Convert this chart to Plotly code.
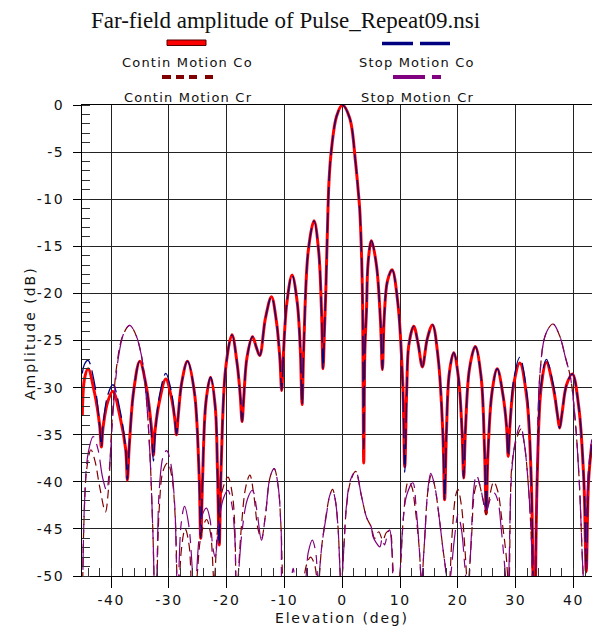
import plotly.graph_objects as go

# ---------------- data ----------------
CO_ANGLE = [
    -45.0, -44.6, -44.0, -42.9, -42.0, -41.7, -41.4, -40.6, -39.7, -38.5, -37.5, -37.2, -36.9, -36.1,
    -35.05, -33.9, -33.0, -32.7, -32.4, -31.6, -30.55, -29.6, -29.0, -28.7, -28.4, -27.8, -26.8,
    -25.6, -24.8, -24.5, -24.2, -23.6, -22.8, -22.0, -21.6, -21.3, -21.0, -20.2, -19.1, -18.2,
    -17.65, -17.35, -17.05, -16.5, -15.55, -14.9, -14.3, -13.3, -12.27, -11.4, -10.8, -10.5, -10.2,
    -9.6, -8.7, -7.8, -7.27, -6.97, -6.67, -5.9, -4.9, -4.1, -3.6, -3.34, -3.1, -2.85, -2.55, -2.3,
    -1.9, -1.0, 0.0, 1.28, 2.27, 2.7, 3.0, 3.3, 3.5, 3.7, 3.9, 4.17, 4.45, 5.03, 5.9, 6.6, 6.93,
    7.25, 7.8, 8.6, 9.6, 10.45, 10.8, 11.15, 11.5, 12.35, 13.1, 13.85, 14.7, 15.6, 16.6, 17.4, 17.7,
    18.0, 18.5, 19.27, 20.1, 20.7, 21.0, 21.3, 22.0, 23.0, 24.0, 24.6, 24.9, 25.2, 25.9, 26.8, 27.8,
    28.4, 28.7, 29.0, 29.7, 30.7, 31.9, 32.7, 33.2, 33.7, 34.4, 35.3, 36.5, 37.2, 37.6, 38.0, 38.8,
    39.8, 40.9, 41.8, 42.2, 42.6, 43.15,
]
CONTIN_CO = [
    -33.0, -29.0, -28.0, -30.5, -34.0, -36.3, -34.2, -31.5, -30.4, -33.0, -36.5, -39.8, -36.5, -30.3,
    -27.2, -30.0, -34.5, -37.2, -34.5, -31.3, -29.1, -31.0, -33.3, -35.0, -33.0, -29.5, -27.2,
    -30.5, -39.0, -46.0, -40.0, -31.5, -28.9, -32.0, -39.0, -46.7, -39.0, -28.0, -24.4, -27.5,
    -31.0, -33.6, -31.0, -26.8, -24.6, -25.7, -26.6, -22.6, -20.35, -23.0, -27.0, -30.3, -26.5,
    -21.0, -18.05, -21.0, -26.0, -31.8, -25.5, -15.5, -12.3, -15.5, -22.0, -28.0, -24.0, -19.5, -12.5, -8.0,
    -4.8, -1.2, 0.0, -1.4, -6.0, -8.8, -11.0, -15.5, -21.0, -38.0, -26.0, -22.0, -16.8, -14.4, -17.0, -23.0, -28.1,
    -22.5, -18.7, -17.5, -21.0, -29.5, -38.4, -30.0, -25.5, -23.5, -25.3, -27.8, -24.8, -23.35, -27.0, -35.0, -41.9,
    -35.0, -28.5, -26.3, -29.0, -34.5, -39.6, -34.5, -28.0, -25.65, -28.8, -36.5, -43.4, -37.0, -30.5, -28.0, -30.8,
    -34.0, -37.3, -34.0, -29.5, -27.4, -31.0, -40.0, -58.0, -40.0, -30.0, -27.3, -30.0, -32.8, -34.3, -32.8, -29.7,
    -28.55, -32.0, -40.0, -49.5, -40.0, -36.0,
]
STOP_CO = [
    -28.5, -27.5, -27.1, -29.5, -34.0, -36.3, -34.0, -30.8, -29.7, -32.3, -36.5, -39.8, -36.5, -30.3,
    -27.2, -30.0, -35.0, -37.8, -35.0, -30.7, -28.5, -30.4, -33.3, -35.0, -33.0, -29.5, -27.2,
    -30.5, -39.0, -46.0, -40.0, -31.5, -28.9, -32.0, -39.0, -46.7, -39.0, -28.0, -24.4, -27.5,
    -31.0, -33.6, -31.0, -26.8, -24.6, -25.7, -26.6, -22.6, -20.35, -23.0, -27.0, -30.3, -26.5,
    -21.0, -18.05, -21.0, -26.0, -31.8, -25.5, -15.5, -12.3, -15.5, -22.0, -28.0, -24.0, -19.5, -12.5, -8.0,
    -4.8, -1.2, 0.0, -1.4, -6.0, -8.8, -11.0, -15.5, -21.0, -36.5, -26.0, -22.0, -16.8, -14.4, -17.0, -23.0, -28.1,
    -22.5, -18.7, -17.5, -21.0, -30.0, -39.0, -30.5, -25.5, -23.5, -25.3, -27.8, -24.8, -23.35, -27.0, -35.0, -41.9,
    -35.0, -28.5, -26.3, -29.0, -34.5, -39.6, -34.5, -28.0, -25.65, -28.8, -36.5, -43.4, -37.0, -30.5, -28.0, -30.8,
    -34.0, -37.3, -34.0, -29.0, -26.8, -30.5, -40.0, -58.0, -40.0, -29.7, -27.0, -29.7, -32.8, -34.3, -32.8, -29.7,
    -28.55, -32.0, -40.0, -49.5, -40.0, -36.0,
]

CONTIN_CR_ANGLE = [
    -45.0, -44.7, -44.2, -43.5, -42.8, -42.0, -41.0, -40.5, -39.8, -39.0, -38.0, -36.8, -35.8, -34.8,
    -34.0, -33.3, -32.8, -32.3, -31.7, -31.0, -30.2, -29.5, -28.9, -28.4, -27.9, -27.2, -26.5, -25.9,
    -25.2, -24.4, -23.5, -22.8, -22.2, -21.6, -20.8, -19.8, -19.0, -18.6, -18.3, -17.5, -16.7, -16.0,
    -15.3, -14.6, -14.0, -13.3, -12.5, -11.8, -11.1, -10.6, -10.1, -9.0, -6.9, -6.2, -5.5, -4.8, -4.2,
    -3.6, -2.8, -2.2, -1.7, -1.2, -0.75, -0.2, 0.3, 0.7, 1.4, 2.3, 3.3, 4.2, 5.0, 5.6, 6.3, 7.0, 7.6,
    8.2, 8.7, 9.2, 10.0, 10.6, 11.4, 12.0, 12.6, 13.3, 13.7, 14.2, 14.8, 15.4, 16.0, 16.8, 17.6, 18.4,
    19.0, 19.6, 20.0, 20.6, 21.2, 21.7, 22.3, 22.9, 23.5, 24.2, 24.9, 25.5, 26.2, 26.9, 27.6, 28.3,
    28.8, 29.3, 30.0, 30.9, 31.5, 32.2, 32.7, 33.2, 33.7, 34.2, 35.2, 36.45, 37.6, 38.6, 39.5, 40.3,
    41.0, 41.6, 42.0, 42.5, 43.15,
]
CONTIN_CR = [
    -55.0, -44.0, -38.5, -36.6, -37.8, -40.5, -43.2, -41.0, -33.0, -27.5, -24.5, -23.4, -24.3, -26.5,
    -30.5, -37.0, -45.0, -55.0, -43.0, -38.8, -38.0, -39.5, -44.0, -55.0, -47.5, -45.0, -46.8, -55.0,
    -50.5, -45.5, -44.0, -45.5, -50.5, -45.0, -41.0, -39.5, -41.5, -45.0, -52.0, -45.0, -40.5, -39.3,
    -41.5, -45.0, -46.0, -43.5, -39.5, -38.6, -40.5, -45.0, -52.0, -55.0, -51.0, -48.8, -48.0, -48.8, -51.0,
    -47.0, -43.5, -41.5, -40.8, -42.0, -44.8, -51.0, -46.5, -42.8, -40.0, -38.9, -41.5, -43.8, -44.8, -46.0, -45.3, -46.2, -45.4,
    -45.2, -48.5, -53.0, -49.5, -43.5, -40.0, -40.5, -42.8, -47.0, -50.5, -46.5, -41.0, -39.3, -40.5, -44.0, -48.0, -51.0,
    -45.5, -41.5, -40.8, -42.5, -47.0, -51.0, -46.5, -41.0, -40.0, -41.5, -43.5, -41.5, -40.0, -41.0, -44.0, -47.5,
    -51.0, -38.5, -35.8, -34.4, -36.0, -40.5, -46.0, -56.0, -40.0, -28.5, -24.3, -23.25, -24.5, -26.8, -29.0, -33.5,
    -40.0, -49.0, -53.0, -40.5, -36.5,
]

STOP_CR_ANGLE = [
    -45.0, -44.6, -44.0, -43.1, -42.3, -41.5, -40.8, -40.3, -39.6, -38.8, -37.8, -36.8, -35.8, -34.8,
    -34.0, -33.3, -32.8, -32.3, -31.7, -31.0, -30.4, -29.7, -29.0, -28.5, -27.9, -27.3, -26.6, -26.0,
    -25.7, -24.8, -24.1, -23.5, -22.9, -22.4, -22.0, -21.4, -20.6, -19.8, -19.1, -18.6, -18.3, -17.4,
    -16.4, -15.55, -14.8, -14.0, -13.3, -12.5, -11.8, -11.1, -10.6, -10.1, -9.2, -8.5, -7.9, -6.6, -5.9,
    -5.2, -4.6, -4.2, -3.5, -2.75, -2.2, -1.7, -1.2, -0.75, -0.2, 0.3, 0.7, 1.4, 2.3, 3.3, 4.2, 5.0, 5.3,
    5.9, 6.5, 6.9, 7.3, 7.8, 8.2, 8.6, 8.9, 9.6, 10.3, 11.1, 12.2, 12.8, 13.3, 13.7, 14.2, 14.8, 15.3,
    16.0, 16.8, 17.6, 18.4, 19.4, 20.0, 20.6, 21.2, 21.7, 22.3, 22.7, 23.2, 23.8, 24.4, 25.0, 25.6, 26.3,
    26.9, 27.5, 28.1, 28.6, 29.3, 30.0, 30.8, 31.5, 32.2, 32.7, 33.2, 33.7, 34.2, 35.2, 36.45, 37.6, 38.6,
    39.5, 40.3, 41.0, 41.6, 42.0, 42.5, 43.15,
]
STOP_CR = [
    -55.0, -42.0, -37.0, -35.2, -36.5, -39.5, -40.9, -38.5, -32.0, -27.0, -24.2, -23.4, -24.3, -26.5,
    -30.5, -37.0, -45.0, -55.0, -41.0, -37.3, -36.7, -38.0, -42.5, -52.0, -44.5, -42.6, -44.5, -49.0,
    -54.0, -46.0, -43.3, -42.8, -44.0, -47.0, -48.0, -44.5, -41.8, -40.9, -42.5, -46.0, -52.0, -45.5,
    -41.8, -40.9, -43.0, -46.2, -43.5, -39.5, -38.6, -40.5, -45.0, -52.0, -51.5, -49.2, -52.0, -51.0, -47.5,
    -46.2, -47.5, -50.5, -46.5, -43.5, -41.5, -40.9, -42.0, -44.8, -51.0, -46.5, -42.6, -39.8, -38.9, -41.5, -43.8, -44.8, -45.8,
    -46.5, -46.9, -46.0, -46.7, -45.6, -45.1, -47.5, -51.0, -52.0, -46.0, -41.5, -40.1, -43.0, -47.0, -50.5, -46.5, -40.8, -39.1,
    -40.5, -44.0, -48.0, -51.0, -46.0, -43.5, -45.0, -49.0, -52.0, -46.0, -41.0, -39.3, -40.3, -42.0, -43.0, -41.8, -41.2,
    -42.0, -45.0, -49.0, -52.0, -39.0, -35.5, -34.0, -36.0, -40.5, -46.0, -56.0, -40.0, -28.5, -24.3, -23.25, -24.5, -26.8,
    -29.0, -33.5, -40.0, -49.0, -53.0, -39.5, -35.5,
]

SERIES_NAMES = ["Contin Motion Co", "Contin Motion Cr", "Stop Motion Co", "Stop Motion Cr"]
X_TICKS = [-40, -30, -20, -10, 0, 10, 20, 30, 40]
Y_TICKS = [0, -5, -10, -15, -20, -25, -30, -35, -40, -45, -50]

TITLE = "Far-field amplitude of Pulse_Repeat09.nsi"
X_TITLE = "Elevation (deg)"
Y_TITLE = "Amplitude (dB)"

# ---------------- styling ----------------
W, H = 592, 626
ML, MR, MT, MB = 82, 0, 105, 50
PW, PH = W - ML - MR, H - MT - MB

RED = "#ff0000"
NAVY = "#000080"
MAROON = "#800000"
PURPLE = "#800080"
TXT = "DejaVu Sans"


def px(x):
    return (x - ML) / PW


def py(y):
    return (H - MB - y) / PH


def spaced(s, sp):
    return '<span style="letter-spacing:%.1fpx">%s</span>' % (sp, s)


fig = go.Figure()
fig.add_trace(go.Scatter(x=CO_ANGLE, y=CONTIN_CO, mode="lines", name=SERIES_NAMES[0],
                         line=dict(color=RED, width=3.0, shape="spline", smoothing=1.0)))
fig.add_trace(go.Scatter(x=CO_ANGLE, y=STOP_CO, mode="lines", name=SERIES_NAMES[2],
                         line=dict(color=NAVY, width=1.3, shape="spline", smoothing=1.0, dash="20px,6px")))
fig.add_trace(go.Scatter(x=CONTIN_CR_ANGLE, y=CONTIN_CR, mode="lines", name=SERIES_NAMES[1],
                         line=dict(color=MAROON, width=1.2, shape="spline", smoothing=1.0, dash="9px,5px")))
fig.add_trace(go.Scatter(x=STOP_CR_ANGLE, y=STOP_CR, mode="lines", name=SERIES_NAMES[3],
                         line=dict(color=PURPLE, width=1.2, shape="spline", smoothing=1.0,
                                   dash="30px,7px,9px,7px")))

shapes = []
# legend samples
shapes.append(dict(type="rect", xref="paper", yref="paper", x0=px(167), x1=px(206), y0=py(45.5), y1=py(40),
                   fillcolor=RED, line=dict(color="#550000", width=1)))
for a, b in [(382, 413), (420, 450)]:
    shapes.append(dict(type="line", xref="paper", yref="paper", x0=px(a), x1=px(b), y0=py(43.5), y1=py(43.5),
                       line=dict(color=NAVY, width=3.5)))
for a, b in [(162, 171), (176, 184), (189, 197), (205, 213)]:
    shapes.append(dict(type="line", xref="paper", yref="paper", x0=px(a), x1=px(b), y0=py(77), y1=py(77),
                       line=dict(color=MAROON, width=4)))
for a, b in [(393, 425), (432, 441)]:
    shapes.append(dict(type="line", xref="paper", yref="paper", x0=px(a), x1=px(b), y0=py(77), y1=py(77),
                       line=dict(color=PURPLE, width=4)))

annotations = []
for name, cx, cy in [(SERIES_NAMES[0], 187, 62), (SERIES_NAMES[1], 188, 97),
                     (SERIES_NAMES[2], 417, 62), (SERIES_NAMES[3], 417, 97)]:
    annotations.append(dict(text=spaced(name, 1.2), xref="paper", yref="paper", x=px(cx), y=py(cy),
                            xanchor="center", yanchor="middle", showarrow=False,
                            font=dict(family=TXT, size=13, color="#111")))
annotations.append(dict(text=spaced(X_TITLE, 1.8), xref="paper", yref="paper", x=px(342), y=py(618),
                        xanchor="center", yanchor="middle", showarrow=False,
                        font=dict(family=TXT, size=14, color="#111")))
annotations.append(dict(text=spaced(Y_TITLE, 2.0), xref="paper", yref="paper", x=px(30), y=py(333),
                        xanchor="center", yanchor="middle", showarrow=False, textangle=-90,
                        font=dict(family=TXT, size=14, color="#111")))
annotations.append(dict(text=TITLE, xref="paper", yref="paper", x=px(285), y=py(20),
                        xanchor="center", yanchor="middle", showarrow=False,
                        font=dict(family="Liberation Serif", size=23, color="#111")))

fig.update_layout(
    width=W, height=H,
    margin=dict(l=ML, r=MR, t=MT, b=MB, pad=0),
    paper_bgcolor="white", plot_bgcolor="white",
    showlegend=False,
    shapes=shapes, annotations=annotations,
)
fig.update_xaxes(
    range=[-45.05, 43.2], tickvals=X_TICKS, ticktext=[spaced(str(v), 1.5) for v in X_TICKS],
    showgrid=True, gridcolor="#222", gridwidth=1, zeroline=False,
    showline=True, linecolor="black", linewidth=1, mirror=True,
    ticks="outside", ticklen=11, tickcolor="black", ticklabelstandoff=0,
    tickfont=dict(family=TXT, size=14, color="#111"),
    minor=dict(ticks="inside", dtick=2, tick0=0, ticklen=8, tickcolor="#333", showgrid=False),
)
fig.update_yaxes(
    range=[-50, 0], tickvals=Y_TICKS, ticktext=[spaced(str(v), 1.5) for v in Y_TICKS],
    showgrid=True, gridcolor="#222", gridwidth=1, zeroline=False,
    showline=True, linecolor="black", linewidth=1,
    ticks="outside", ticklen=8, tickcolor="black", ticklabelstandoff=6,
    tickfont=dict(family=TXT, size=14, color="#111"),
    minor=dict(ticks="inside", dtick=1, tick0=0, ticklen=8, tickcolor="#333", showgrid=False),
)

fig.write_html("out.html")
